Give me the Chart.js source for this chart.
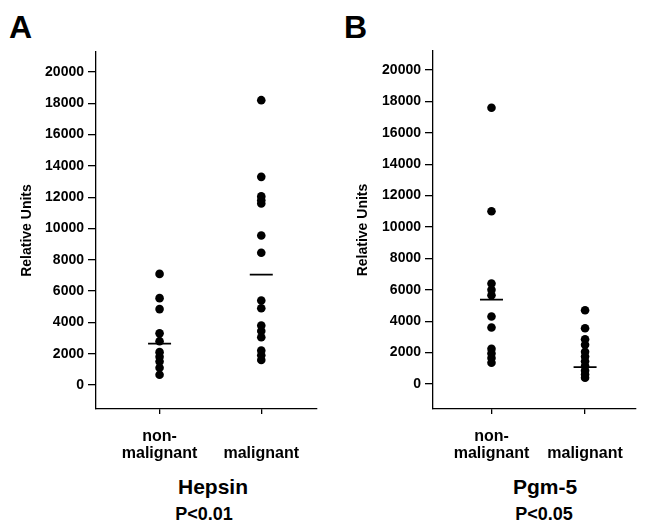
<!DOCTYPE html>
<html>
<head>
<meta charset="utf-8">
<script src="https://cdn.jsdelivr.net/npm/chart.js@4.4.0/dist/chart.umd.min.js"></script>
<style>
    body { margin: 0; background: #fff; width: 649px; height: 527px; position: relative; overflow: hidden;
           font-family: "Liberation Sans", Arial, sans-serif; font-weight: bold; color: #000; }
    canvas { position: absolute; top: 0; }
    .lbl { position: absolute; white-space: nowrap; line-height: 1; }
    .mid { transform: translateX(-50%); }
</style>
</head>
<body>
<div class="lbl" style="left:9px; top:11px; font-size:32px;">A</div>
<div class="lbl" style="left:344px; top:11px; font-size:32px;">B</div>
<div class="lbl mid" style="left:213px; top:476px; font-size:21px;">Hepsin</div>
<div class="lbl mid" style="left:204px; top:505px; font-size:18px;">P&lt;0.01</div>
<div class="lbl mid" style="left:545px; top:476px; font-size:21px;">Pgm-5</div>
<div class="lbl mid" style="left:544px; top:505px; font-size:18px;">P&lt;0.05</div>
<canvas id="chartA" width="330" height="527" style="left:0;"></canvas>
<canvas id="chartB" width="319" height="527" style="left:330px;"></canvas>
<script>
// Kategori dan tick
const categories = [['non-', 'malignant'], ['', 'malignant']];
const yTicks = [0, 2000, 4000, 6000, 8000, 10000, 12000, 14000, 16000, 18000, 20000];

// Hepsin (panel A)
const hepsinNon = [7100, 5550, 4850, 3300, 2800, 2100, 1800, 1500, 1100, 650];
const hepsinMal = [18200, 13300, 12050, 11800, 11600, 9550, 8450, 5400, 4900, 3800, 3450, 3050, 2200, 1900, 1600];
const hepsinLine = [2640, 7050];

// Pgm-5 (panel B)
const pgmNon = [17600, 11000, 6400, 6000, 5650, 4300, 3600, 2250, 1950, 1650, 1350];
const pgmMal = [4700, 3550, 2850, 2500, 2050, 1750, 1450, 1150, 850, 600, 400];
const pgmLine = [5370, 1070];

function makeChart(id, nonVals, malVals, lines, opt) {
    const points = nonVals.map(v => ({ x: 1, y: v })).concat(malVals.map(v => ({ x: 2, y: v })));
    const marks = lines.map((v, i) => ({ x: i + 1, y: v }));

    new Chart(document.getElementById(id), {
        type: 'scatter',
        data: {
            datasets: [{
                data: points,
                pointRadius: 4.3,
                backgroundColor: '#000',
                borderWidth: 0
            }, {
                data: marks,
                pointStyle: 'line',
                pointRadius: 11.5,
                borderColor: '#000',
                borderWidth: 1.8
            }]
        },
        options: {
            responsive: false,
            animation: false,
            layout: { padding: { top: opt.top, right: opt.right, left: 0, bottom: 0 } },
            plugins: { legend: { display: false }, tooltip: { enabled: false } },
            scales: {
                x: {
                    type: 'linear',
                    min: 0.375,
                    max: opt.xMax,
                    afterBuildTicks: s => { s.ticks = [{ value: 1 }, { value: 2 }]; },
                    afterFit: s => { s.height = 118; },
                    ticks: {
                        callback: v => categories[v - 1],
                        color: '#000',
                        font: { family: 'Liberation Sans', weight: 'bold', size: 16, lineHeight: 1.05 },
                        padding: 14,
                        maxRotation: 0,
                        autoSkip: false
                    },
                    grid: { drawOnChartArea: false, drawTicks: true, tickLength: 5, color: '#000', lineWidth: 1.3 },
                    border: { color: '#000', width: 1.3 }
                },
                y: {
                    min: opt.yMin,
                    max: opt.yMax,
                    afterBuildTicks: s => { s.ticks = yTicks.map(v => ({ value: v })); },
                    afterFit: s => { s.width = opt.yWidth; },
                    ticks: {
                        callback: v => String(v),
                        color: '#000',
                        font: { family: 'Liberation Sans', weight: 'bold', size: 14 },
                        padding: 4
                    },
                    grid: { drawOnChartArea: false, drawTicks: true, tickLength: 8, color: '#000', lineWidth: 1.3 },
                    border: { color: '#000', width: 1.3 },
                    title: {
                        display: true,
                        text: 'Relative Units',
                        color: '#000',
                        font: { family: 'Liberation Sans', weight: 'bold', size: 14 },
                        padding: { top: opt.titlePad, bottom: 0 }
                    }
                }
            }
        }
    });
}

document.addEventListener('DOMContentLoaded', function() {
    makeChart('chartA', hepsinNon, hepsinMal, hepsinLine,
        { top: 52, right: 12, yWidth: 96, xMax: 2.545, yMin: -1534, yMax: 21278, titlePad: 18.6 });
    makeChart('chartB', pgmNon, pgmMal, pgmLine,
        { top: 51, right: 0, yWidth: 103, xMax: 2.541, yMin: -1592, yMax: 21210, titlePad: 24.3 });
});
</script>
</body>
</html>
